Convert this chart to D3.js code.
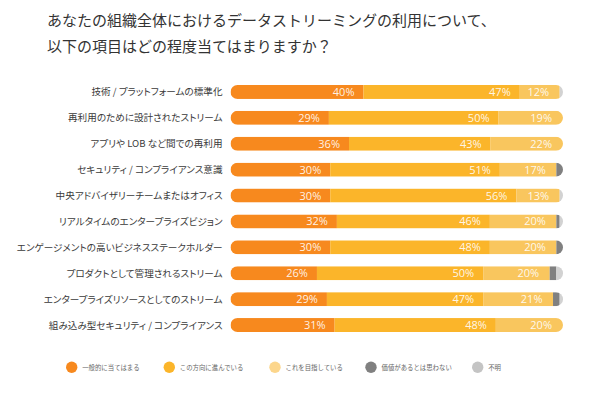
<!DOCTYPE html>
<html><head><meta charset="utf-8">
<script src="https://cdn.jsdelivr.net/npm/d3@7"></script>
<style>
html,body{margin:0;padding:0;background:#fff;}
svg{display:block;}
.cat{font-family:"Noto Sans CJK JP","Noto Sans",sans-serif;font-size:9.6px;fill:#3a3a3a;font-feature-settings:"palt";}
.ttl{font-family:"Noto Sans CJK JP","Noto Sans",sans-serif;font-size:15px;fill:#333;}
.pct{font-family:"Open Sans","Noto Sans",sans-serif;font-size:11px;fill:#fff;fill-opacity:0.9;}
.leg{font-family:"Noto Sans CJK JP","Noto Sans",sans-serif;font-size:6.4px;fill:#666;}
</style>
</head><body>
<svg id="c" width="590" height="396"></svg>
<script>
const titleLines = ["あなたの組織全体におけるデータストリーミングの利用について、","以下の項目はどの程度当てはまりますか？"];
const categories = ["技術 / プラットフォームの標準化","再利用のために設計されたストリーム","アプリや LOB など間での再利用","セキュリティ / コンプライアンス意識","中央アドバイザリーチームまたはオフィス","リアルタイムのエンタープライズビジョン","エンゲージメントの高いビジネスステークホルダー","プロダクトとして管理されるストリーム","エンタープライズリソースとしてのストリーム","組み込み型セキュリティ / コンプライアンス"];
const seriesNames = ["一般的に当てはまる","この方向に進んでいる","これを目指している","価値があるとは思わない","不明"];
const general = [40,29,36,30,30,32,30,26,29,31];
const moving  = [47,50,43,51,56,46,48,50,47,48];
const aiming  = [12,19,22,17,13,20,20,20,21,20];
const noValue = [0,0,0,2,0,1,2,2,2,0];
const unknown = [1,0,0,0,1,1,0,2,1,0];
const colors = ["#F7891E","#FBB52A","#F9C65E","#808080","#D2D2D2"];
const legendColors = ["#F7891E","#FBB52A","#FCD68C","#808080","#C4C4C4"];

const svg = d3.select("#c");
svg.selectAll("text.ttl").data(titleLines).enter().append("text")
  .attr("class","ttl").attr("x",47).attr("y",(d,i)=>26+i*26).text(d=>d);

const keys = ["g","m","a","n","u"];
const arrs = [general,moving,aiming,noValue,unknown];
const table = categories.map((c,i)=>{const o={cat:c}; keys.forEach((k,j)=>o[k]=arrs[j][i]); return o;});
const stack = d3.stack().keys(keys).offset(d3.stackOffsetExpand);
const layers = stack(table);

const x = d3.scaleLinear().domain([0,1]).range([230.5,563]);
const y = d3.scaleBand().domain(categories).range([79,338]).paddingInner(0.46).paddingOuter(0.23);
const bh = y.bandwidth();

const defs = svg.append("defs");
categories.forEach((c,i)=>{
  defs.append("clipPath").attr("id","clip"+i).append("rect")
    .attr("x",x(0)).attr("y",y(c)).attr("width",x(1)-x(0)).attr("height",bh)
    .attr("rx",bh/2).attr("ry",bh/2);
});

const rows = svg.append("g").selectAll("g").data(categories).enter().append("g")
  .attr("clip-path",(d,i)=>`url(#clip${i})`);
rows.each(function(c,i){
  const g = d3.select(this);
  layers.forEach((L,j)=>{
    const d = L[i];
    if (d[1]-d[0] <= 0) return;
    g.append("rect").attr("x",x(d[0])).attr("y",y(c)).attr("width",x(d[1])-x(d[0])).attr("height",bh)
      .attr("fill",colors[j]);
  });
});

// percent labels
const labG = svg.append("g");
categories.forEach((c,i)=>{
  [0,1,2].forEach(j=>{
    const d = layers[j][i];
    const v = arrs[j][i];
    const xe = Math.min(x(d[1]) - (j===2?10.5:9), 552);
    labG.append("text").attr("class","pct").attr("x",xe).attr("y",y(c)+bh/2)
      .attr("dy","0.36em").attr("text-anchor","end").text(v+"%");
  });
});

// category labels
svg.append("g").selectAll("text").data(categories).enter().append("text")
  .attr("class","cat").attr("x",222.5).attr("y",d=>y(d)+bh/2).attr("dy","0.36em")
  .attr("text-anchor","end").text(d=>d);

// legend
const legX = [71.7,169.3,275,371,477.7];
const lg = svg.append("g").selectAll("g").data(seriesNames).enter().append("g")
  .attr("transform",(d,i)=>`translate(${legX[i]},367.3)`);
lg.append("circle").attr("r",5.7).attr("fill",(d,i)=>legendColors[i]);
lg.append("text").attr("class","leg").attr("x",10.5).attr("dy","0.36em").text(d=>d);
</script>
</body></html>
